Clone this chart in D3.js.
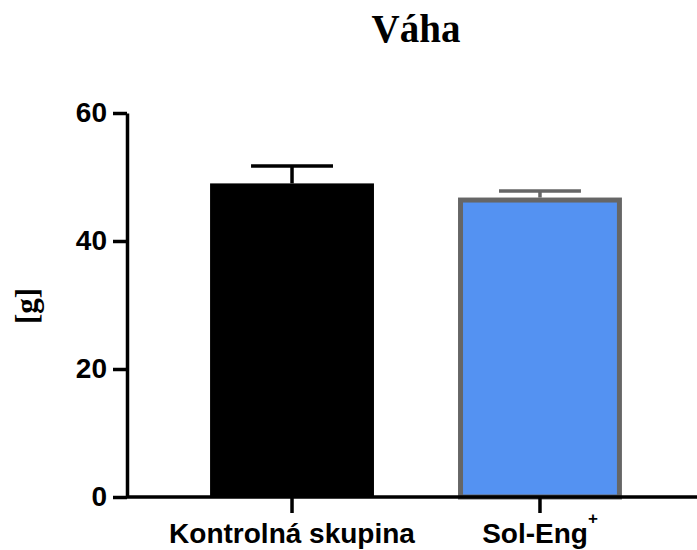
<!DOCTYPE html>
<html>
<head>
<meta charset="utf-8">
<script src="https://cdn.jsdelivr.net/npm/d3@7"></script>
<style>
  body { margin: 0; background: #fff; }
</style>
</head>
<body>
<div id="chart"></div>
<script>
const groups = ["Kontrolná skupina", "Sol-Eng"];
const means = [49.0, 46.4];
const errors = [2.7, 1.4];
const yTicks = [0, 20, 40, 60];

(function() {
  const width = 697;
  const height = 550;
  const svg = d3.select("#chart")
    .append("svg")
    .attr("width", width)
    .attr("height", height);

  const y = d3.scaleLinear().domain([0, 60]).range([497, 113]);
  const x = d3.scaleBand()
    .domain(groups)
    .range([127, 705])
    .paddingInner(0.339)
    .paddingOuter(0.335);

  const fills = ["#000000", "#5492f2"];
  const strokes = ["#000000", "#666666"];
  const sw = [0, 5];

  // bars
  svg.selectAll("rect.bar")
    .data(groups)
    .enter().append("rect")
    .attr("class", "bar")
    .attr("x", (d, i) => x(d) + sw[i] / 2)
    .attr("width", (d, i) => x.bandwidth() - sw[i])
    .attr("y", (d, i) => y(means[i]))
    .attr("height", (d, i) => y(0) - y(means[i]))
    .style("fill", (d, i) => fills[i])
    .style("stroke", (d, i) => sw[i] ? strokes[i] : "none")
    .style("stroke-width", (d, i) => sw[i]);

  // error bars (upper only)
  const eb = svg.selectAll("g.err")
    .data(groups)
    .enter().append("g")
    .attr("class", "err")
    .style("stroke", (d, i) => strokes[i])
    .style("stroke-width", 3.5);
  eb.append("line")
    .attr("x1", d => x(d) + x.bandwidth() / 2)
    .attr("x2", d => x(d) + x.bandwidth() / 2)
    .attr("y1", (d, i) => y(means[i]) - sw[i] / 2)
    .attr("y2", (d, i) => y(means[i] + errors[i]));
  eb.append("line")
    .attr("x1", d => x(d) + x.bandwidth() / 4)
    .attr("x2", d => x(d) + x.bandwidth() * 3 / 4)
    .attr("y1", (d, i) => y(means[i] + errors[i]))
    .attr("y2", (d, i) => y(means[i] + errors[i]));

  // y axis
  const yAxis = svg.append("g")
    .attr("transform", "translate(127,0)")
    .call(d3.axisLeft(y).tickValues(yTicks).tickSize(14).tickSizeOuter(0).tickPadding(6));
  yAxis.selectAll("path, line").style("stroke", "#000").style("stroke-width", 3.5);
  yAxis.selectAll("text")
    .style("font-family", "'Liberation Sans', Arial, sans-serif")
    .style("font-weight", "bold")
    .style("font-size", "28px")
    .style("fill", "#000");

  // x axis
  const xAxis = svg.append("g")
    .attr("transform", "translate(0," + y(0) + ")")
    .call(d3.axisBottom(x).tickSize(16).tickSizeOuter(0).tickPadding(6).tickFormat(""));
  xAxis.selectAll("path, line").style("stroke", "#000").style("stroke-width", 3.5);
  xAxis.select("path.domain").attr("d", "M127,0H705");

  // x labels
  const labels = svg.selectAll("text.xl")
    .data(groups)
    .enter().append("text")
    .attr("class", "xl")
    .attr("x", d => x(d) + x.bandwidth() / 2)
    .attr("y", 543)
    .attr("text-anchor", "middle")
    .style("font-family", "'Liberation Sans', Arial, sans-serif")
    .style("font-weight", "bold")
    .style("font-size", "28px")
    .text(d => d);
  labels.filter((d, i) => i === 1)
    .append("tspan")
    .attr("dy", -19)
    .style("font-size", "17px")
    .text("+");

  // title
  svg.append("text")
    .attr("x", 416)
    .attr("y", 42)
    .attr("text-anchor", "middle")
    .style("font-family", "'Liberation Serif', 'Times New Roman', serif")
    .style("font-weight", "bold")
    .style("font-size", "39px")
    .text("Váha");

  // y label
  svg.append("text")
    .attr("transform", "translate(37,306) rotate(-90)")
    .attr("text-anchor", "middle")
    .style("font-family", "'Liberation Serif', 'Times New Roman', serif")
    .style("font-weight", "bold")
    .style("font-size", "31px")
    .text("[g]");
})();
</script>
</body>
</html>
